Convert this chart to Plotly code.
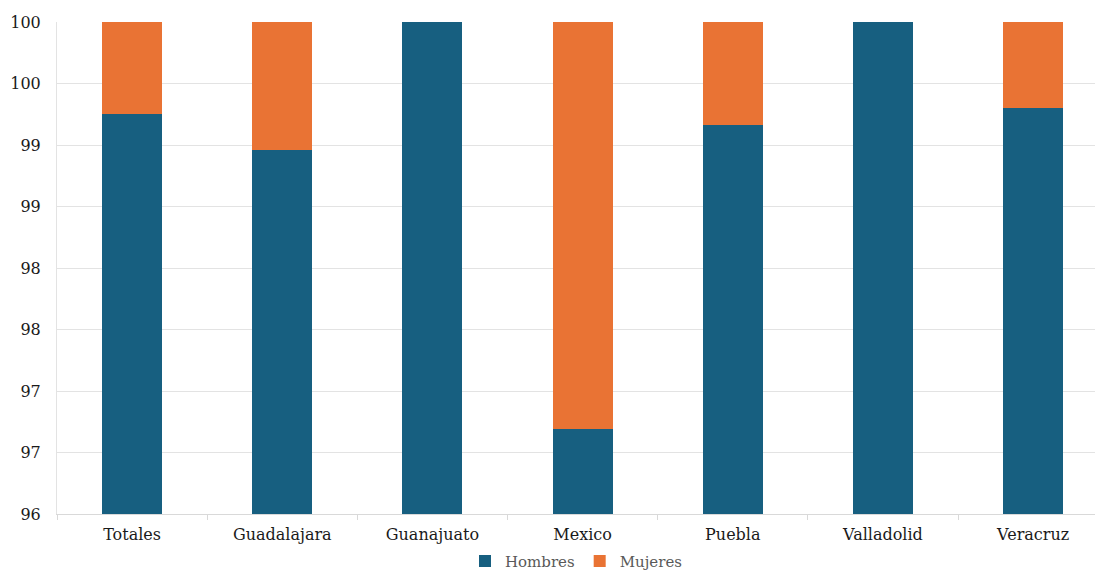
import plotly.graph_objects as go

# Share of each group per city (percent)
categories = ["Totales", "Guadalajara", "Guanajuato", "Mexico", "Puebla", "Valladolid", "Veracruz"]
hombres = [99.25, 98.96, 100.0, 96.69, 99.16, 100.0, 99.30]
mujeres = [100 - h for h in hombres]

y_tick_values = [96, 96.5, 97, 97.5, 98, 98.5, 99, 99.5, 100]
y_tick_labels = ["96", "97", "97", "98", "98", "99", "99", "100", "100"]

BLUE = "#175f80"
ORANGE = "#e97334"
FONT = "DejaVu Serif"

fig = go.Figure()
fig.add_trace(go.Bar(x=categories, y=hombres, name="Hombres", marker_color=BLUE,
                     marker_line_width=0, width=0.4))
fig.add_trace(go.Bar(x=categories, y=mujeres, name="Mujeres", marker_color=ORANGE,
                     marker_line_width=0, width=0.4))

fig.update_layout(
    barmode="stack",
    width=1095, height=574,
    margin=dict(l=57, r=0, t=22, b=60, autoexpand=False),
    paper_bgcolor="white", plot_bgcolor="white",
    font=dict(family=FONT, size=16, color="#1a1a1a"),
    legend=dict(orientation="h", x=0.5, xanchor="center",
                yref="container", y=0.022, yanchor="middle",
                font=dict(family=FONT, size=15, color="#595959"),
                itemwidth=30, traceorder="normal", tracegroupgap=0),
    showlegend=True,
)
fig.update_xaxes(
    range=[-0.5, 6.412],
    showgrid=False,
    showline=True, linecolor="#d9d9d9", linewidth=1,
    ticks="outside", tickson="boundaries", ticklen=5, tickcolor="#d9d9d9",
    ticklabelstandoff=6,
    tickfont=dict(family=FONT, size=16, color="#1a1a1a"),
)
fig.update_yaxes(
    range=[96, 100],
    tickvals=y_tick_values, ticktext=y_tick_labels,
    showgrid=True, gridcolor="#e3e3e3", gridwidth=1,
    showline=True, linecolor="#e3e3e3", linewidth=1,
    zeroline=False,
    ticks="", ticklabelstandoff=12,
    tickfont=dict(family=FONT, size=16, color="#1a1a1a"),
)

fig.write_html("out.html")
